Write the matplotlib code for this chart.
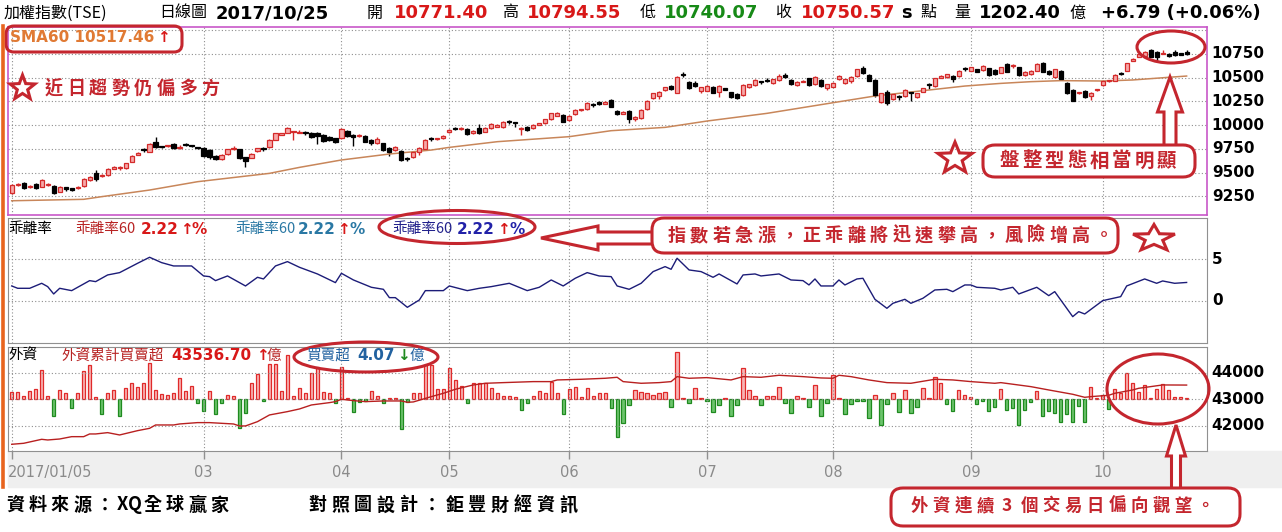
import numpy as np
import matplotlib
matplotlib.use('Agg')
import matplotlib.pyplot as plt
from matplotlib.patches import Rectangle, Ellipse, FancyBboxPatch, Polygon
from matplotlib.lines import Line2D
from matplotlib.transforms import Affine2D, blended_transform_factory

# ---------------- data ----------------
opens = [9280,9370,9385,9345,9375,9350,9365,9357,9297,9335,
 9325,9335,9357,9420,9490,9462,9470,9540,9543,9545,
 9614,9688,9740,9720,9825,9770,9775,9800,9762,9795,
 9783,9760,9755,9737,9674,9642,9690,9745,9745,9660,
 9657,9727,9748,9765,9843,9900,9920,9925,9920,9918,
 9920,9920,9895,9878,9860,9860,9940,9895,9882,9890,
 9843,9808,9808,9755,9737,9730,9645,9660,9720,9745,
 9858,9850,9862,9923,9962,9960,9958,9913,9965,9930,
 9965,9983,9976,10040,10028,9962,9983,9965,10005,10018,
 10060,10100,10107,10055,10117,10155,10166,10215,10232,10224,
 10264,10148,10118,10148,10060,10071,10166,10282,10310,10370,
 10412,10342,10532,10458,10447,10363,10363,10405,10352,10385,
 10345,10324,10317,10398,10419,10455,10472,10440,10475,10525,
 10475,10423,10458,10493,10430,10475,10395,10405,10482,10440,
 10465,10518,10598,10528,10475,10247,10352,10272,10305,10306,
 10340,10293,10352,10428,10412,10500,10504,10518,10518,10592,
 10574,10588,10581,10598,10581,10553,10644,10620,10609,10528,
 10539,10574,10658,10574,10504,10574,10447,10370,10338,10363,
 10307,10365,10423,10465,10468,10542,10574,10680,10722,10729,
 10792,10775,10750,10750,10775,10755,10771.40]
closes = [9368,9382,9340,9355,9340,9420,9375,9287,9350,9330,
 9320,9345,9431,9456,9430,9475,9540,9555,9548,9597,
 9674,9703,9735,9800,9765,9765,9785,9755,9768,9788,
 9778,9755,9674,9660,9642,9685,9745,9752,9650,9625,
 9700,9755,9743,9843,9913,9910,9973,9932,9932,9913,
 9870,9885,9832,9843,9818,9958,9885,9870,9888,9825,
 9808,9853,9737,9720,9765,9632,9640,9720,9755,9843,
 9853,9856,9885,9948,9958,9966,9905,9940,9913,9973,
 10012,9998,10036,10030,10022,9968,9948,10000,10015,10060,
 10124,10124,10036,10096,10160,10166,10236,10210,10227,10240,
 10194,10113,10140,10060,10088,10159,10257,10335,10352,10398,
 10377,10511,10525,10388,10416,10398,10412,10342,10412,10375,
 10293,10289,10423,10430,10475,10451,10468,10482,10517,10505,
 10430,10458,10468,10423,10510,10416,10430,10447,10517,10482,
 10510,10588,10553,10468,10317,10335,10229,10324,10298,10370,
 10335,10335,10387,10422,10493,10515,10535,10482,10574,10588,
 10610,10563,10623,10528,10539,10609,10563,10626,10528,10563,
 10574,10644,10563,10539,10588,10483,10335,10258,10342,10293,
 10342,10373,10468,10470,10528,10537,10651,10700,10745,10775,
 10722,10715,10760,10729,10740,10744,10750.57]
highs = [9380,9392,9403,9365,9385,9428,9385,9365,9355,9350,
 9340,9358,9440,9462,9526,9485,9548,9565,9565,9605,
 9680,9712,9757,9808,9870,9780,9792,9812,9790,9808,
 9795,9772,9765,9745,9680,9690,9752,9775,9752,9668,
 9706,9762,9765,9850,9920,9920,9980,9940,9945,9935,
 9928,9928,9905,9885,9868,9965,9950,9905,9905,9900,
 9850,9870,9815,9765,9780,9740,9660,9727,9772,9850,
 9875,9868,9900,9955,9980,9978,9966,9948,10010,9980,
 10018,10008,10042,10055,10036,9976,9990,10008,10022,10068,
 10130,10135,10115,10103,10166,10175,10243,10236,10250,10250,
 10272,10155,10148,10159,10096,10166,10264,10342,10360,10405,
 10420,10518,10560,10466,10465,10405,10420,10412,10420,10395,
 10352,10342,10430,10437,10482,10470,10495,10490,10540,10545,
 10482,10465,10478,10500,10518,10482,10437,10455,10524,10489,
 10517,10595,10623,10540,10482,10342,10370,10331,10320,10377,
 10350,10342,10394,10448,10500,10525,10540,10525,10580,10612,
 10617,10595,10630,10605,10588,10616,10655,10645,10616,10570,
 10581,10651,10665,10581,10595,10581,10454,10377,10350,10370,
 10349,10380,10475,10480,10535,10560,10658,10708,10752,10782,
 10800,10782,10790,10757,10790,10765,10794.55]
lows = [9270,9360,9326,9338,9330,9345,9355,9275,9290,9310,
 9300,9325,9352,9412,9415,9455,9465,9535,9525,9540,
 9608,9682,9718,9715,9760,9755,9768,9748,9748,9775,
 9765,9745,9665,9640,9635,9637,9685,9738,9645,9562,
 9650,9720,9725,9760,9838,9893,9915,9843,9915,9900,
 9865,9800,9825,9835,9812,9855,9872,9783,9870,9818,
 9795,9800,9730,9675,9730,9625,9620,9655,9685,9740,
 9835,9838,9855,9918,9945,9952,9898,9905,9905,9925,
 9958,9975,9970,10010,9983,9895,9940,9958,9998,10012,
 10055,10092,10030,10048,10110,10148,10160,10195,10215,10218,
 10188,10105,10112,10025,10045,10065,10160,10275,10272,10364,
 10370,10335,10505,10380,10405,10335,10355,10335,10300,10365,
 10286,10278,10310,10392,10412,10435,10455,10433,10468,10498,
 10423,10416,10450,10416,10423,10405,10370,10398,10475,10433,
 10440,10512,10538,10460,10300,10229,10210,10265,10265,10300,
 10258,10286,10345,10377,10405,10492,10498,10450,10512,10570,
 10568,10556,10575,10520,10530,10546,10556,10600,10520,10520,
 10532,10567,10556,10532,10497,10476,10328,10250,10330,10286,
 10268,10358,10416,10455,10461,10530,10567,10672,10715,10722,
 10715,10680,10745,10715,10733,10740,10740.07]

sma_day = [0,12,15,23,31,43,48,55,63,70,73,81,93,100,109,116,126,137,144,148,
           154,159,165,170,175,182,187,193,196]
sma_val = [9202,9217,9245,9315,9403,9491,9554,9632,9695,9737,9765,9825,9878,9941,
           9976,10043,10124,10236,10307,10335,10377,10412,10440,10458,10469,10465,
           10476,10504,10517.46]

bias_day = [0,1,3,5,6,7,8,10,13,14,16,18,21,23,25,27,30,32,33,34,36,39,41,42,44,46,48,
            51,54,55,57,60,62,63,64,66,68,69,72,73,76,78,80,83,86,88,90,92,94,96,98,100,
            101,103,105,107,109,110,111,113,115,117,118,121,122,124,125,128,130,132,133,
            134,135,137,138,139,141,142,144,146,147,149,150,152,154,156,157,159,160,161,
            164,165,167,168,171,173,174,177,178,179,182,185,186,189,191,192,194,196]
bias_val = [1.8,1.52,1.52,2.12,1.72,0.84,1.52,1.24,2.44,2.32,3.12,3.4,4.52,5.24,4.6,4.2,
            4.2,3.0,2.92,2.44,3.0,1.8,2.84,2.64,4.2,4.72,4.04,3.24,2.2,3.32,2.52,1.64,1.4,
            0.4,0.4,-0.76,0.12,1.24,1.24,1.8,1.24,1.52,1.72,2.12,1.24,1.64,2.52,1.8,2.72,
            3.4,3.0,2.92,1.8,1.4,2.12,3.52,4.12,3.8,5.12,3.72,3.52,2.84,3.24,2.04,3.12,
            3.24,3.0,3.24,2.52,2.44,1.92,2.64,1.8,1.8,2.52,1.92,2.64,2.72,0.2,-0.88,-0.28,
            0.2,-0.28,0.32,1.32,1.4,1.12,1.92,1.92,1.64,1.52,1.32,1.64,0.84,1.64,0.64,1.12,
            -1.88,-1.28,-1.56,0.04,0.52,1.8,2.64,2.12,2.4,2.12,2.22]

foreign_net = [31,31,13,35,40,117,13,-67,37,27,
 -36,27,115,137,11,-59,27,37,-67,44,
 67,51,64,147,37,21,17,27,87,35,
 53,-16,-45,35,-59,-13,17,13,-116,-53,
 64,101,-5,141,141,35,177,13,44,27,
 107,128,31,27,-16,128,4,-49,-9,-5,
 35,13,-16,4,4,-120,-9,27,27,137,
 137,40,40,124,77,53,-13,67,64,64,
 44,24,13,13,8,-43,-13,13,35,24,
 71,24,-59,40,51,11,44,13,27,27,
 -36,-149,-93,-23,37,
 31,27,17,27,31,-32,188,4,-13,44,
 4,-7,-49,-23,4,-67,-23,124,37,13,
 -23,13,13,48,-13,-53,13,4,-29,57,
 -67,-13,97,4,-59,-20,-7,-7,-76,17,
 -103,-19,27,-49,37,-53,-29,44,4,88,
 67,-19,-45,37,17,8,-19,-5,-45,-29,
 40,-43,-36,-103,-43,-9,33,-65,-45,-56,
 -89,-59,-89,-27,-89,48,4,17,-40,40,
 24,107,67,31,57,4,40,60,37,8,
 8,4.07]

cum_day = [0,2,5,6,8,10,12,13,14,16,18,21,23,24,27,28,31,33,35,37,38,39,41,43,46,48,50,
           53,54,55,57,59,62,65,66,67,70,72,74,77,79,82,87,90,91,95,99,101,102,105,108,
           110,111,113,116,120,122,125,128,132,135,137,138,140,143,146,150,152,154,157,
           160,164,165,170,173,177,179,180,183,184,187,188,190,192,196]
cum_val = [41302,41340,41490,41465,41502,41590,41590,41692,41692,41742,41654,41817,41905,
           42031,42031,42069,42120,42120,42094,42069,41994,41994,42157,42409,42535,42635,
           42786,42874,42912,43000,42950,42912,42937,42937,42887,42900,43100,43226,43377,
           43541,43604,43629,43667,43667,43730,43755,43793,43830,43667,43604,43629,43667,
           43855,43793,43818,43730,43855,43830,43906,43855,43805,43793,43906,43855,43730,
           43629,43604,43680,43755,43730,43667,43604,43629,43478,43352,43189,43075,43100,
           43151,43226,43352,43415,43478,43541,43536.70]

month_start = [0, 32, 55, 73, 93, 116, 137, 160, 182]
month_labels = ['2017/01/05', '03', '04', '05', '06', '07', '08', '09', '10']
price_grid = [9250, 9500, 9750, 10000, 10250, 10500, 10750, 11000]
price_labels = [9250, 9500, 9750, 10000, 10250, 10500, 10750]
bias_ticks = [5, 0]
cum_ticks = [44000, 43000, 42000]

# ---------------- figure ----------------
W, H = 1282, 532
RED = '#c4262e'
CJK = ['Noto Sans CJK TC', 'DejaVu Sans']
LAT = ['DejaVu Sans', 'Noto Sans CJK TC']
plt.rcParams['font.family'] = LAT

fig = plt.figure(figsize=(W / 100, H / 100), dpi=100)
fig.patch.set_facecolor('white')
PX = Affine2D().scale(1.0 / W, -1.0 / H).translate(0, 1) + fig.transFigure


def panel(x0, y0, x1, y1):
    return fig.add_axes([x0 / W, 1 - y1 / H, (x1 - x0) / W, (y1 - y0) / H])


def txt(x, y, s, size=11, color='black', weight='normal', family=LAT, ha='left', z=6):
    fig.text(x / W, 1 - y / H, s, fontsize=size, color=color, weight=weight,
             family=family, ha=ha, va='center', zorder=z)


def spaced(x, y, s, step, size, color, weight='bold', half=None):
    pos = x
    for ch in s:
        adv = step if (half is None or ord(ch) > 0x2000) else half
        txt(pos + adv / 2, y, ch, size, color, weight, CJK, ha='center')
        pos += adv


XL = (-0.62, 199.4)
GRID = dict(color='#8e8e8e', lw=0.8, linestyle=(0, (1, 2)), zorder=0.5)

# gray date strip and left orange rule
fig.add_artist(Rectangle((8, 451), W - 8, 36, transform=PX, color='#efefef', zorder=-1))
fig.add_artist(Line2D([2.5, 2.5], [26, 487], transform=PX, color='#e8641e', lw=2.6, zorder=7))

# ---- main candlestick panel ----
ax_m = panel(8, 27, 1207, 215)
ax_m.set_xlim(*XL)
ax_m.set_ylim(9051.7, 11034.8)
for v in price_grid:
    ax_m.axhline(v, **GRID)
for d in month_start:
    ax_m.axvline(d, **GRID)
idx = np.arange(len(closes))
o = np.array(opens); c = np.array(closes); hi = np.array(highs); lo = np.array(lows)
up = c >= o
body_lo = np.minimum(o, c)
body_h = np.maximum(np.abs(c - o), 12)
ax_m.vlines(idx[up], lo[up], hi[up], color='#d42a2a', lw=1, zorder=1.5)
ax_m.vlines(idx[~up], lo[~up], hi[~up], color='black', lw=1, zorder=1.5)
ax_m.bar(idx[up], body_h[up], bottom=body_lo[up], width=0.7, color='#f6a8a8',
         edgecolor='#d42a2a', lw=0.9, zorder=2)
ax_m.bar(idx[~up], body_h[~up], bottom=body_lo[~up], width=0.7, color='black',
         edgecolor='black', lw=0.9, zorder=2)
ax_m.plot(sma_day, sma_val, color='#c8865a', lw=1.1, zorder=1.8)
for sp in ax_m.spines.values():
    sp.set_color('#c858c8'); sp.set_linewidth(1.2)
tr = blended_transform_factory(ax_m.transAxes, ax_m.transData)
for v in price_labels:
    ax_m.text(1.004, v, str(v), transform=tr, fontsize=11, weight='bold', va='center', ha='left')

# ---- bias panel ----
ax_b = panel(8, 218, 1207, 343)
ax_b.set_xlim(*XL)
ax_b.set_ylim(-5.04, 9.95)
for v in bias_ticks:
    ax_b.axhline(v, **GRID)
for d in month_start:
    ax_b.axvline(d, **GRID)
ax_b.plot(bias_day, bias_val, color='#1c1c78', lw=1.0)
for sp in ax_b.spines.values():
    sp.set_color('#909090')
tr = blended_transform_factory(ax_b.transAxes, ax_b.transData)
for v in bias_ticks:
    ax_b.text(1.004, v, str(v), transform=tr, fontsize=11, weight='bold', va='center', ha='left')

# ---- foreign investors panel ----
ax_fb = panel(8, 347, 1207, 451)
ax_fb.set_xlim(*XL)
ax_fb.set_ylim(-206.8, 209.2)
fv = np.array(foreign_net)
fi = np.arange(len(fv))
pos = fv >= 0
ax_fb.bar(fi[pos], fv[pos], width=0.55, color='#f7b4b4', edgecolor='#e02a2a', lw=0.9)
ax_fb.bar(fi[~pos], fv[~pos], width=0.55, color='#6cc46c', edgecolor='#1f8a1f', lw=0.9)
for sp in ax_fb.spines.values():
    sp.set_color('#909090')
ax_fl = ax_fb.twinx()
ax_fl.set_xlim(*XL)
ax_fl.set_ylim(41049, 44973)
for v in cum_ticks:
    ax_fl.axhline(v, **GRID)
for d in month_start:
    ax_fl.axvline(d, **GRID)
ax_fl.plot(cum_day, cum_val, color='#b82020', lw=1.0)
for sp in ax_fl.spines.values():
    sp.set_visible(False)
tr = blended_transform_factory(ax_fl.transAxes, ax_fl.transData)
for v in cum_ticks:
    ax_fl.text(1.004, v, str(v), transform=tr, fontsize=11, weight='bold', va='center', ha='left')

for a in (ax_m, ax_b, ax_fb, ax_fl):
    a.set_xticks([]); a.set_yticks([])

# ---- date axis ----
ax_x = panel(8, 451, 1207, 487)
ax_x.set_xlim(*XL); ax_x.set_ylim(0, 1)
ax_x.patch.set_alpha(0)
for sp in ax_x.spines.values():
    sp.set_visible(False)
ax_x.set_xticks([]); ax_x.set_yticks([])
ax_x.vlines(month_start, 0.78, 1.0, color='#909090', lw=1)
for d, lab in zip(month_start, month_labels):
    if d == month_start[0]:
        ax_x.text(XL[0], 0.4, lab, fontsize=10.5, color='#8a8a8a', ha='left', va='center')
    else:
        ax_x.text(d, 0.4, lab, fontsize=10.5, color='#8a8a8a', ha='center', va='center')

# ---------------- header ----------------
HY = 13
txt(4, HY, '加權指數(TSE)', 11.5, family=CJK)
txt(159, HY, '日線圖', 11.5, family=CJK)
txt(216, HY, '2017/10/25', 13, weight='bold')
txt(367, HY, '開', 11.5, family=CJK)
txt(394, HY, '10771.40', 13, '#d81818', 'bold')
txt(502, HY, '高', 11.5, family=CJK)
txt(527, HY, '10794.55', 13, '#d81818', 'bold')
txt(640, HY, '低', 11.5, family=CJK)
txt(664, HY, '10740.07', 13, '#178a17', 'bold')
txt(775, HY, '收', 11.5, family=CJK)
txt(801, HY, '10750.57', 13, '#d81818', 'bold')
txt(901, HY, 's', 13, weight='bold')
txt(920, HY, '點', 11.5, family=CJK)
txt(954, HY, '量', 11.5, family=CJK)
txt(979, HY, '1202.40', 13, weight='bold')
txt(1069, HY, '億', 11.5, family=CJK)
txt(1101, HY, '+6.79 (+0.06%)', 13, weight='bold')

# ---------------- panel legends ----------------
txt(10, 38, 'SMA60 10517.46', 11, '#e07a34', 'bold')
txt(157, 38, '↑', 11, '#d81818', 'bold')

BY = 229
LS = 10.5
txt(8, BY, '乖離率', LS, family=CJK)
txt(75, BY, '乖離率60', LS, '#b82424', family=CJK)
txt(141, BY, '2.22', 11, '#d81818', 'bold')
txt(180, BY, '↑', 11, '#d81818', 'bold')
txt(192, BY, '%', 11, '#d81818', 'bold')
txt(235, BY, '乖離率60', LS, '#2a78a4', family=CJK)
txt(298, BY, '2.22', 11, '#2a78a4', 'bold')
txt(337, BY, '↑', 11, '#d81818', 'bold')
txt(349, BY, '%', 11, '#2a78a4', 'bold')
txt(392, BY, '乖離率60', LS, '#22228c', family=CJK)
txt(457, BY, '2.22', 11, '#2222a8', 'bold')
txt(497, BY, '↑', 11, '#d81818', 'bold')
txt(509, BY, '%', 11, '#2222a8', 'bold')

FY = 356
txt(8, FY, '外資', LS, family=CJK)
txt(61, FY, '外資累計買賣超', LS, '#b82424', family=CJK)
txt(171, FY, '43536.70', 11, '#d81818', 'bold')
txt(256, FY, '↑', 11, '#d81818', 'bold')
txt(267, FY, '億', LS, '#b82424', family=CJK)
txt(306, FY, '買賣超', LS, '#2262a0', family=CJK)
txt(357, FY, '4.07', 11, '#2262a0', 'bold')
txt(397, FY, '↓', 11, '#1f8a1f', 'bold')
txt(410, FY, '億', LS, '#2262a0', family=CJK)

# ---------------- annotations ----------------
def star(cx, cy, rx, ry, lw=2.2):
    pts = []
    for k in range(10):
        ang = np.pi / 2 + k * np.pi / 5
        r = 1.0 if k % 2 == 0 else 0.42
        pts.append((cx + rx * r * np.cos(ang), cy - ry * r * np.sin(ang)))
    fig.add_artist(Polygon(pts, closed=True, fill=False, edgecolor=RED, lw=lw,
                           transform=PX, zorder=5))


def rbox(x, y, w, h, rs=10):
    fig.add_artist(FancyBboxPatch((x, y), w, h, boxstyle='round,pad=0,rounding_size=%g' % rs,
                                  transform=PX, facecolor='white', edgecolor=RED, lw=2.2, zorder=4))


def ell(cx, cy, w, h):
    fig.add_artist(Ellipse((cx, cy), w, h, transform=PX, fill=False, edgecolor=RED, lw=2.2, zorder=5))


def up_arrow(cx, tip, head, base, hw, sw):
    pts = [(cx, tip), (cx + hw, head), (cx + sw, head), (cx + sw, base),
           (cx - sw, base), (cx - sw, head), (cx - hw, head)]
    fig.add_artist(Polygon(pts, closed=True, facecolor='white', edgecolor=RED, lw=2.2,
                           transform=PX, zorder=3))


def left_arrow(tip, cy, head, tail, hh, sh):
    pts = [(tip, cy), (head, cy - hh), (head, cy - sh), (tail, cy - sh),
           (tail, cy + sh), (head, cy + sh), (head, cy + hh)]
    fig.add_artist(Polygon(pts, closed=True, facecolor='white', edgecolor=RED, lw=2.2,
                           transform=PX, zorder=3))


# SMA60 legend box
fig.add_artist(FancyBboxPatch((6, 26), 176, 26, boxstyle='round,pad=0,rounding_size=8',
                              transform=PX, fill=False, edgecolor=RED, lw=2.2, zorder=5))
# left note
star(22.5, 88, 13, 13)
spaced(42, 88, '近日趨勢仍偏多方', 22.5, 13, RED)
# right main note
ell(1171, 47, 68, 32)
up_arrow(1170, 77, 112, 147, 12.5, 6)
rbox(983, 145, 212, 32, 12)
spaced(998, 161, '盤整型態相當明顯', 22.5, 14, RED)
star(955, 158.5, 18, 16.5)
# bias note
ell(457, 227, 156, 33)
left_arrow(541, 238, 598, 656, 12, 6)
rbox(652, 218, 466, 35, 12)
spaced(665, 235.5, '指數若急漲，正乖離將迅速攀高，風險增高。', 22.5, 13, RED)
star(1154, 238.5, 22, 14)
# foreign note
ell(366, 357, 144, 30)
ell(1158, 389, 102, 70)
up_arrow(1176, 425, 456, 489, 9.5, 4.5)
rbox(891, 488, 349, 38, 12)
spaced(908, 506, '外資連續3個交易日偏向觀望。', 22, 12.5, RED)

# ---------------- footer ----------------
spaced(4, 505, '資料來源：XQ全球贏家', 22.3, 13, 'black', half=13)
spaced(306, 505, '對照圖設計：鉅豐財經資訊', 22.8, 13, 'black')

fig.savefig('out.png', dpi=100)
